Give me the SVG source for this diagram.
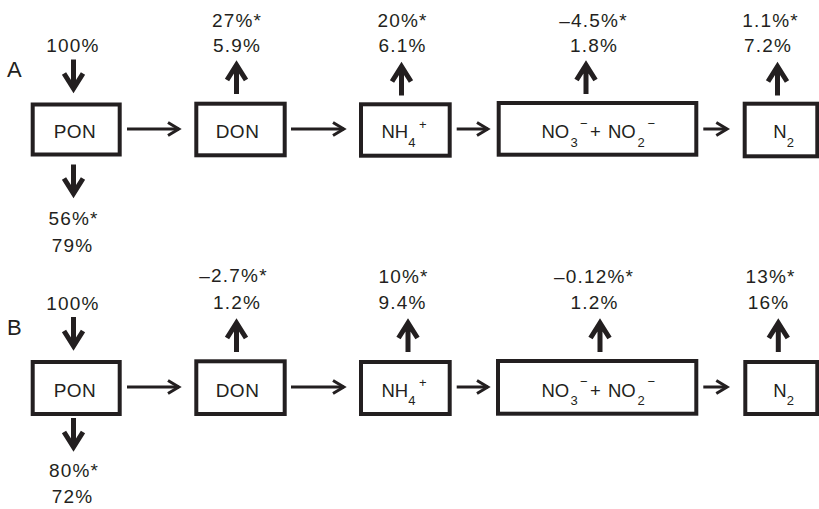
<svg xmlns="http://www.w3.org/2000/svg" width="819" height="509" viewBox="0 0 819 509">
<style>
text{font-family:"Liberation Sans",Arial,sans-serif;fill:#231f20}
.lab{font-size:19px;letter-spacing:1.2px;text-anchor:middle}
.nt{font-size:18.5px}
.ntm{font-size:19px;letter-spacing:0.5px;text-anchor:middle}
.big{font-size:22px}
.sm{font-size:13px;letter-spacing:0}
.box{fill:#fff;stroke:#231f20;stroke-width:4}
.thick{fill:none;stroke:#231f20;stroke-width:5;stroke-linejoin:miter}
.thin{fill:none;stroke:#231f20;stroke-width:3;stroke-linejoin:miter}
</style>
<defs>
<g id="down"><path class="thick" d="M0,-34V-6M-9.5,-20L0,-5L9.5,-20"/></g>
<g id="up"><path class="thick" d="M0,34V6M-9.5,20L0,5L9.5,20"/></g>
<path id="rhead" class="thin" d="M-13.7,-6.5L-2.9,0L-13.7,6.5"/>
</defs>
<rect width="819" height="509" fill="#fff"/>

<text class="big" x="7" y="77">A</text>
<text class="big" x="7" y="335">B</text>

<g id="connectors">
<!-- Row A -->
<use href="#down" x="73.5" y="93.5"/>
<use href="#down" x="73.5" y="198.5"/>
<use href="#up" x="236.5" y="60"/>
<use href="#up" x="401.5" y="61.5"/>
<use href="#up" x="586" y="60"/>
<use href="#up" x="777.5" y="61.5"/>
<path class="thin" d="M127,129H179"/><use href="#rhead" x="181.7" y="129"/>
<path class="thin" d="M291,129H344"/><use href="#rhead" x="346.7" y="129"/>
<path class="thin" d="M456.7,129H488"/><use href="#rhead" x="490.7" y="129"/>
<path class="thin" d="M703.3,129H727"/><use href="#rhead" x="730" y="129"/>
<!-- Row B -->
<use href="#down" x="73.5" y="351"/>
<use href="#down" x="73.5" y="452"/>
<use href="#up" x="236.5" y="318"/>
<use href="#up" x="408" y="318"/>
<use href="#up" x="600" y="318"/>
<use href="#up" x="778.3" y="318"/>
<path class="thin" d="M127,387H179"/><use href="#rhead" x="181.7" y="387"/>
<path class="thin" d="M291,387H344"/><use href="#rhead" x="346.7" y="387"/>
<path class="thin" d="M456.7,387H488"/><use href="#rhead" x="490.7" y="387"/>
<path class="thin" d="M703.3,387H727"/><use href="#rhead" x="730" y="387"/>
</g>

<!-- Row A nodes -->
<g id="A-PON"><rect class="box" x="32.7" y="104.5" width="87" height="50"/><text class="ntm" x="75" y="138">PON</text></g>
<g id="A-DON"><rect class="box" x="196.3" y="103.7" width="88.4" height="51.6"/><text class="ntm" x="237.5" y="138">DON</text></g>
<g id="A-NH4"><rect class="box" x="361" y="104.3" width="88.7" height="51.4"/><text class="nt" x="381.5" y="138">NH<tspan class="sm" dy="8.5">4</tspan><tspan class="sm" x="419" dy="-18">+</tspan></text></g>
<g id="A-NO3"><rect class="box" x="498.7" y="103" width="197.6" height="51.7"/><text class="nt" y="138"><tspan x="541.5">NO</tspan><tspan class="sm" x="570.5" dy="8.5">3</tspan><tspan class="sm" x="580" dy="-19">−</tspan><tspan x="590" dy="10.5">+</tspan><tspan x="608">NO</tspan><tspan class="sm" x="637.5" dy="8.5">2</tspan><tspan class="sm" x="647.5" dy="-19">−</tspan></text></g>
<g id="A-N2"><rect class="box" x="744.7" y="103.7" width="72.6" height="52.6"/><text class="nt" x="773.3" y="138">N<tspan class="sm" dy="8.5">2</tspan></text></g>

<!-- Row A labels -->
<text class="lab" x="73" y="52">100%</text>
<text class="lab" x="73.5" y="225">56%*</text>
<text class="lab" x="72.5" y="252">79%</text>
<text class="lab" x="237" y="26.5">27%*</text>
<text class="lab" x="237" y="52">5.9%</text>
<text class="lab" x="402.5" y="26.5">20%*</text>
<text class="lab" x="402.5" y="52">6.1%</text>
<text class="lab" x="593.5" y="26.5">–4.5%*</text>
<text class="lab" x="594" y="52">1.8%</text>
<text class="lab" x="770.5" y="26.5">1.1%*</text>
<text class="lab" x="768" y="52">7.2%</text>

<!-- Row B nodes -->
<g id="B-PON"><rect class="box" x="32.7" y="362" width="87" height="52"/><text class="ntm" x="75" y="396.7">PON</text></g>
<g id="B-DON"><rect class="box" x="196.3" y="361.3" width="88.4" height="52.7"/><text class="ntm" x="237.5" y="396.7">DON</text></g>
<g id="B-NH4"><rect class="box" x="361" y="362" width="88.7" height="52"/><text class="nt" x="381.5" y="396.7">NH<tspan class="sm" dy="8.5">4</tspan><tspan class="sm" x="419" dy="-18">+</tspan></text></g>
<g id="B-NO3"><rect class="box" x="498" y="361" width="198.3" height="52.7"/><text class="nt" y="396.7"><tspan x="541.5">NO</tspan><tspan class="sm" x="570.5" dy="8.5">3</tspan><tspan class="sm" x="580" dy="-19">−</tspan><tspan x="590" dy="10.5">+</tspan><tspan x="608">NO</tspan><tspan class="sm" x="637.5" dy="8.5">2</tspan><tspan class="sm" x="647.5" dy="-19">−</tspan></text></g>
<g id="B-N2"><rect class="box" x="745.3" y="362" width="72" height="52"/><text class="nt" x="773.3" y="396.7">N<tspan class="sm" dy="8.5">2</tspan></text></g>

<!-- Row B labels -->
<text class="lab" x="73" y="310">100%</text>
<text class="lab" x="74" y="477">80%*</text>
<text class="lab" x="72.5" y="503">72%</text>
<text class="lab" x="233.5" y="282">–2.7%*</text>
<text class="lab" x="237" y="308.5">1.2%</text>
<text class="lab" x="403.5" y="283">10%*</text>
<text class="lab" x="402.5" y="309">9.4%</text>
<text class="lab" x="594" y="283">–0.12%*</text>
<text class="lab" x="594.5" y="309">1.2%</text>
<text class="lab" x="770.5" y="283">13%*</text>
<text class="lab" x="768.5" y="309">16%</text>
</svg>
